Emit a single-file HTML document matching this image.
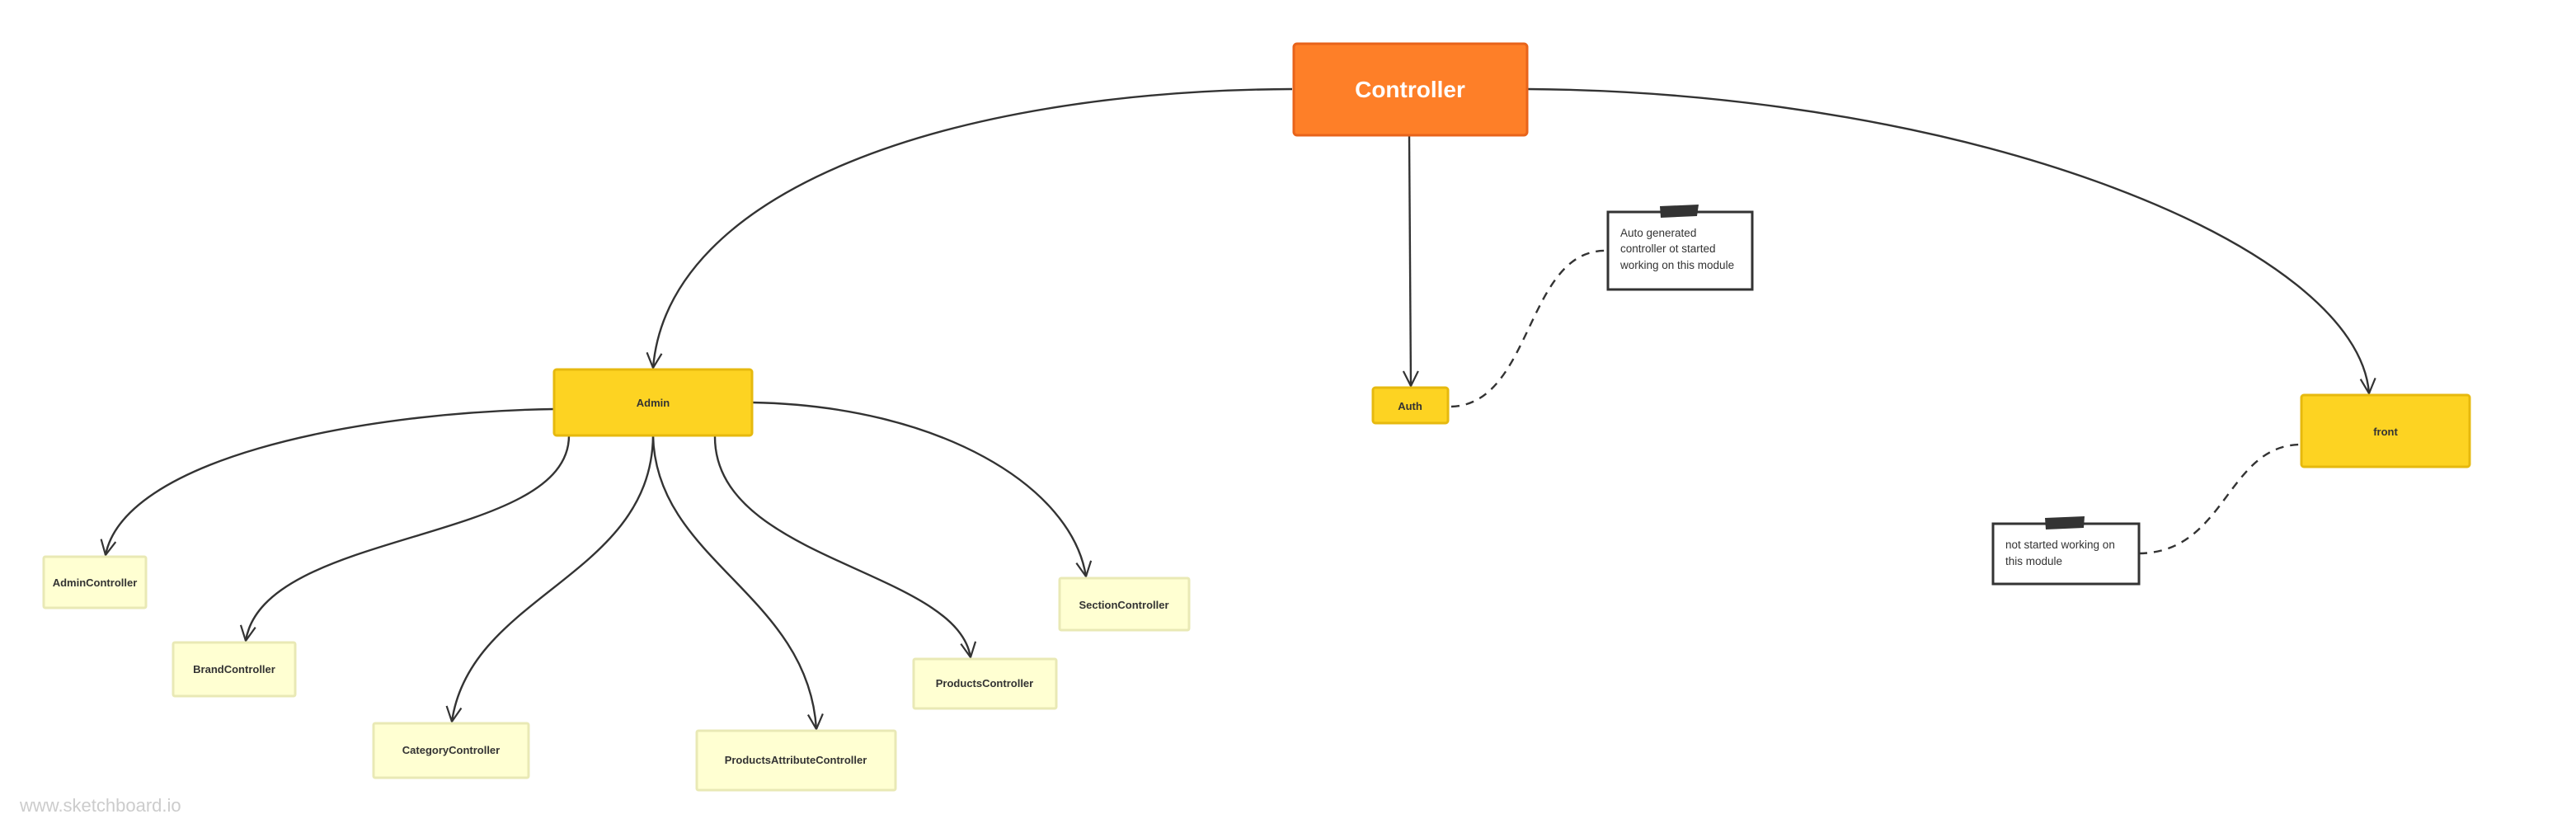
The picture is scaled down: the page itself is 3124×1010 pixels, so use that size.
<!DOCTYPE html>
<html><head><meta charset="utf-8"><style>
html,body{margin:0;padding:0;background:#fff;}
svg{display:block;}
text{font-family:"Liberation Sans",Arial,sans-serif;}
</style></head><body>
<svg width="3124" height="1010" viewBox="0 0 3124 1010" xmlns="http://www.w3.org/2000/svg">
<defs>
<marker id="a" markerWidth="24" markerHeight="24" refX="20" refY="12" orient="auto" markerUnits="userSpaceOnUse">
<path d="M2,3 L20,12 L2,21" fill="none" stroke="#333" stroke-width="2.2"/>
</marker>
</defs>
<g fill="none" stroke="#333" stroke-width="2.4">
<path d="M1567,108 C1150,110 810,230 792,446" marker-end="url(#a)"/>
<path d="M1852,108 C2400,112 2860,300 2873,477" marker-end="url(#a)"/>
<path d="M1709,164 L1711,468" marker-end="url(#a)"/>
<path d="M672,496 C420,500 150,560 128,673" marker-end="url(#a)"/>
<path d="M690,528 C690,660 320,640 298,777" marker-end="url(#a)"/>
<path d="M792,528 C790,700 570,720 548,875" marker-end="url(#a)"/>
<path d="M792,528 C795,680 980,720 990,884" marker-end="url(#a)"/>
<path d="M867,528 C865,680 1160,690 1177,797" marker-end="url(#a)"/>
<path d="M912,488 C1140,492 1300,590 1317,699" marker-end="url(#a)"/>
<path d="M1760,493 C1860,490 1850,300 1950,304" stroke-dasharray="10,8"/>
<path d="M2594,671 C2700,670 2700,540 2790,539" stroke-dasharray="10,8"/>
</g>
<rect x="1569" y="53" width="283" height="111" rx="4" fill="#FE7F28" stroke="#E8631A" stroke-width="3"/>
<text x="1710" y="118" font-size="28" font-weight="bold" fill="#fff" text-anchor="middle">Controller</text>
<g stroke="#E6B90E" stroke-width="3" fill="#FDD322">
<rect x="672" y="448" width="240" height="80" rx="3"/>
<rect x="1665" y="470" width="91" height="43" rx="3"/>
<rect x="2791" y="479" width="204" height="87" rx="3"/>
</g>
<g stroke="#E9E9B5" stroke-width="3" fill="#FFFFD2">
<rect x="53" y="675" width="124" height="62" rx="2"/>
<rect x="210" y="779" width="148" height="65" rx="2"/>
<rect x="453" y="877" width="188" height="66" rx="2"/>
<rect x="845" y="886" width="241" height="72" rx="2"/>
<rect x="1108" y="799" width="173" height="60" rx="2"/>
<rect x="1285" y="701" width="157" height="63" rx="2"/>
</g>
<g font-size="13" font-weight="bold" fill="#333" text-anchor="middle">
<text x="792" y="493">Admin</text>
<text x="1710" y="497">Auth</text>
<text x="2893" y="528">front</text>
<text x="115" y="711">AdminController</text>
<text x="284" y="816">BrandController</text>
<text x="547" y="914">CategoryController</text>
<text x="965" y="926">ProductsAttributeController</text>
<text x="1194" y="833">ProductsController</text>
<text x="1363" y="738">SectionController</text>
</g>
<g fill="#fff" stroke="#333" stroke-width="3">
<rect x="1950" y="257" width="175" height="94"/>
<rect x="2417" y="635" width="177" height="73"/>
</g>
<g fill="#333">
<path d="M2013,250 L2060,248 L2058,262 L2014,264 Z"/>
<path d="M2480,628 L2528,626 L2527,640 L2481,642 Z"/>
</g>
<g font-size="13.5" fill="#333">
<text x="1965" y="287">Auto generated</text>
<text x="1965" y="306">controller ot started</text>
<text x="1965" y="326">working on this module</text>
<text x="2432" y="665">not started working on</text>
<text x="2432" y="685">this module</text>
</g>
<text x="24" y="984" font-size="22" fill="#ccc">www.sketchboard.io</text>
</svg>
</body></html>
